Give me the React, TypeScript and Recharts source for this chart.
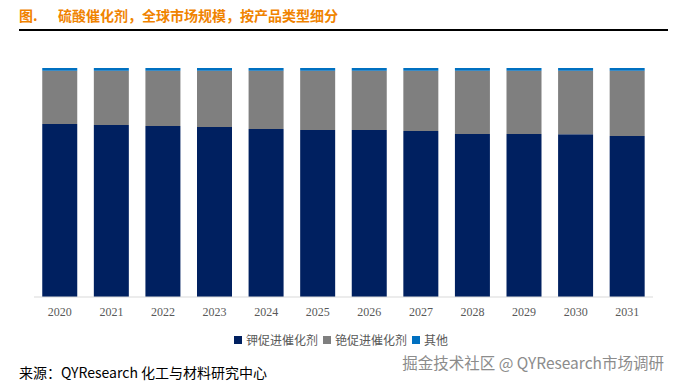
import React from 'react'
import { BarChart, Bar, XAxis, YAxis } from 'recharts'

const years = ['2020', '2021', '2022', '2023', '2024', '2025', '2026', '2027', '2028', '2029', '2030', '2031']
// 市场份额 (%)，按产品类型
const potassium = [75.5, 75.1, 74.7, 74.2, 73.4, 72.9, 72.9, 72.5, 71.2, 71.2, 71.1, 70.3]
const cesium = [23.3, 23.7, 24.1, 24.6, 25.4, 25.9, 25.9, 26.3, 27.6, 27.6, 27.7, 28.5]
const others = [1.2, 1.2, 1.2, 1.2, 1.2, 1.2, 1.2, 1.2, 1.2, 1.2, 1.2, 1.2]

const SERIES = [
  { key: 'potassium', name: '钾促进催化剂', color: '#002060' },
  { key: 'cesium', name: '铯促进催化剂', color: '#7F7F7F' },
  { key: 'others', name: '其他', color: '#0070C0' },
] as const

const CJK = '"Noto Sans CJK SC", "Noto Sans", sans-serif'

export default function App() {
  const data = years.map((year, i) => ({
    year,
    potassium: potassium[i],
    cesium: cesium[i],
    others: others[i],
  }))

  return (
    <div
      style={{
        position: 'relative',
        width: 676,
        height: 382,
        margin: '-8px 0 0 -8px',
        background: '#fff',
        fontFamily: CJK,
      }}
    >
      <div
        style={{
          position: 'absolute',
          left: 19,
          top: 5,
          fontSize: 14,
          fontWeight: 700,
          color: '#F08300',
          lineHeight: '20px',
          whiteSpace: 'nowrap',
        }}
      >
        <span style={{ display: 'inline-block', width: 39 }}>图.</span>
        硫酸催化剂，全球市场规模，按产品类型细分
      </div>
      <div style={{ position: 'absolute', left: 19, top: 29, width: 652, height: 1.5, background: '#000' }} />

      <div style={{ position: 'absolute', left: 0, top: 0 }}>
        <BarChart
          width={676}
          height={330}
          data={data}
          stackOffset="expand"
          barCategoryGap="16%"
          margin={{ top: 68, right: 23, bottom: 3, left: 34 }}
        >
          <XAxis
            dataKey="year"
            height={30}
            tickLine={false}
            tickMargin={4}
            axisLine={{ stroke: '#D9D9D9' }}
            tick={{ fill: '#595959', fontSize: 12, fontFamily: '"Liberation Serif", serif' }}
          />
          <YAxis hide domain={[0, 1]} />
          {SERIES.map((s) => (
            <Bar key={s.key} dataKey={s.key} name={s.name} stackId="a" fill={s.color} isAnimationActive={false} />
          ))}
        </BarChart>
      </div>

      <div
        style={{
          position: 'absolute',
          left: 34,
          width: 619,
          top: 331,
          display: 'flex',
          justifyContent: 'center',
          fontSize: 12,
          color: '#595959',
          lineHeight: '18px',
        }}
      >
        {SERIES.map((s) => (
          <span key={s.key} style={{ display: 'flex', alignItems: 'center', marginRight: 5 }}>
            <span style={{ width: 8, height: 8, background: s.color, marginRight: 4 }} />
            {s.name}
          </span>
        ))}
      </div>

      <div
        style={{
          position: 'absolute',
          right: 12,
          top: 351,
          fontSize: 15.5,
          color: '#8C8C8C',
          lineHeight: '22px',
          whiteSpace: 'nowrap',
        }}
      >
        掘金技术社区 @ QYResearch市场调研
      </div>
      <div
        style={{
          position: 'absolute',
          left: 19,
          top: 362,
          fontSize: 14,
          color: '#000',
          lineHeight: '20px',
          whiteSpace: 'nowrap',
        }}
      >
        来源：QYResearch 化工与材料研究中心
      </div>
    </div>
  )
}
